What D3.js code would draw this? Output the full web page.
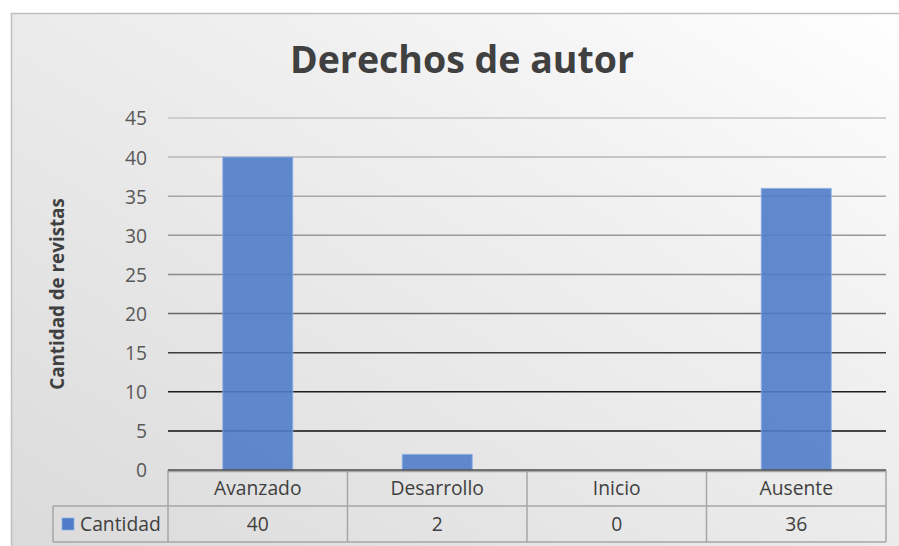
<!DOCTYPE html>
<html>
<head>
<meta charset="utf-8">
<script src="https://cdn.jsdelivr.net/npm/d3@7"></script>
<style>
  html, body { margin: 0; padding: 0; background: #ffffff; }
  svg { display: block; }
  text { font-family: "Open Sans", Lato, sans-serif; }
</style>
</head>
<body>
<svg id="chart" width="899" height="546"></svg>
<script>
// ---- data ----
const categories = ["Avanzado", "Desarrollo", "Inicio", "Ausente"];
const seriesName = "Cantidad";
const values = [40, 2, 0, 36];
const yTicks = [0, 5, 10, 15, 20, 25, 30, 35, 40, 45];
const chartTitle = "Derechos de autor";
const yTitle = "Cantidad de revistas";

const W = 899, H = 546;
const svg = d3.select("#chart");
const defs = svg.append("defs");

// background gradient
const bg = defs.append("linearGradient").attr("id", "bgGrad")
  .attr("x1", "100%").attr("y1", "0%").attr("x2", "0%").attr("y2", "100%");
bg.append("stop").attr("offset", "0%").attr("stop-color", "#ffffff");
bg.append("stop").attr("offset", "35%").attr("stop-color", "#f0f0f0");
bg.append("stop").attr("offset", "100%").attr("stop-color", "#dadada");

svg.append("rect").attr("x", 0).attr("y", 0).attr("width", W).attr("height", H).attr("fill", "#ffffff");
svg.append("rect").attr("x", 11.5).attr("y", 13.5).attr("width", W + 10).attr("height", H + 10)
  .attr("fill", "url(#bgGrad)").attr("stroke", "#bfbfbf").attr("stroke-width", 1.5);

// scales
const plotL = 168, plotR = 886, plotT = 118, plotB = 470;
const x = d3.scaleBand().domain(categories).range([plotL, plotR]).paddingInner(0).paddingOuter(0);
const y = d3.scaleLinear().domain([0, 45]).range([plotB, plotT]);

// gridline gradient (light gray at top to black at bottom)
const gg = defs.append("linearGradient").attr("id", "gridGrad")
  .attr("gradientUnits", "userSpaceOnUse")
  .attr("x1", 0).attr("y1", plotT).attr("x2", 0).attr("y2", plotB);
gg.append("stop").attr("offset", "0%").attr("stop-color", "#c4c4c4");
gg.append("stop").attr("offset", "45%").attr("stop-color", "#8a8a8a");
gg.append("stop").attr("offset", "75%").attr("stop-color", "#202020");
gg.append("stop").attr("offset", "100%").attr("stop-color", "#000000");

// gridlines
svg.append("g").selectAll("line").data(yTicks.filter(t => t > 0)).join("line")
  .attr("x1", plotL).attr("x2", plotR)
  .attr("y1", d => y(d)).attr("y2", d => y(d))
  .attr("stroke", "url(#gridGrad)").attr("stroke-width", 1.5);

// bars
const barW = x.bandwidth() * 0.39;
svg.append("g").selectAll("rect").data(values.map((v, i) => ({ c: categories[i], v })))
  .join("rect")
  .attr("x", d => x(d.c) + (x.bandwidth() - barW) / 2)
  .attr("y", d => y(d.v))
  .attr("width", barW)
  .attr("height", d => y(0) - y(d.v))
  .attr("fill", "#4f7cc9").attr("fill-opacity", 0.9)
  .attr("stroke", "#8fb0e6").attr("stroke-width", 1).attr("stroke-opacity", 0.8);

const fs = 19.3;
// y axis labels
const yAxis = d3.axisLeft(y).tickValues(yTicks).tickSize(0).tickPadding(0);
const ga = svg.append("g").attr("transform", `translate(${plotL - 21},0)`).call(yAxis);
ga.select(".domain").remove();
ga.selectAll("text").attr("font-family", "'Open Sans', sans-serif").attr("font-size", fs)
  .attr("fill", "#595959").attr("dy", "0.36em");

// title
svg.append("text").attr("x", 462).attr("y", 73).attr("text-anchor", "middle")
  .attr("font-size", 37.5).attr("font-weight", "bold").attr("fill", "#404040").text(chartTitle);

// y title
svg.append("text").attr("transform", `translate(64,${(plotT + plotB) / 2}) rotate(-90)`)
  .attr("text-anchor", "middle").attr("font-size", 18.8).attr("font-weight", "bold")
  .attr("fill", "#404040").text(yTitle);

// data table
const row1T = plotB, row1B = 506, row2B = 542, legL = 53;
const tbl = svg.append("g").attr("stroke", "#a6a6a6").attr("stroke-width", 1.5).attr("fill", "none");
tbl.append("line").attr("x1", plotL).attr("x2", plotR).attr("y1", row1T + 1.5).attr("y2", row1T + 1.5);
tbl.append("line").attr("x1", legL).attr("x2", plotR).attr("y1", row1B).attr("y2", row1B);
tbl.append("line").attr("x1", legL).attr("x2", plotR).attr("y1", row2B).attr("y2", row2B);
tbl.append("line").attr("x1", legL).attr("x2", legL).attr("y1", row1B).attr("y2", row2B);
const vx = categories.map(c => x(c)).concat([plotR]);
tbl.selectAll("line.v").data(vx).join("line").attr("class", "v")
  .attr("x1", d => d).attr("x2", d => d).attr("y1", row1T).attr("y2", row2B);
// axis line
svg.append("line").attr("x1", plotL).attr("x2", plotR).attr("y1", plotB).attr("y2", plotB)
  .attr("stroke", "#4d4d4d").attr("stroke-width", 1.5);

// category labels
svg.append("g").selectAll("text").data(categories).join("text")
  .attr("x", d => x(d) + x.bandwidth() / 2).attr("y", 495)
  .attr("text-anchor", "middle").attr("font-size", fs).attr("fill", "#404040").text(d => d);
// values
svg.append("g").selectAll("text").data(values).join("text")
  .attr("x", (d, i) => x(categories[i]) + x.bandwidth() / 2).attr("y", 531)
  .attr("text-anchor", "middle").attr("font-size", fs).attr("fill", "#404040").text(d => d);
// legend key
svg.append("rect").attr("x", 62).attr("y", 518).attr("width", 12).attr("height", 12)
  .attr("fill", "#4f7cc9").attr("stroke", "#8fb0e6").attr("stroke-width", 0.8);
svg.append("text").attr("x", 80).attr("y", 531).attr("font-size", fs).attr("fill", "#404040").text(seriesName);
</script>
</body>
</html>
